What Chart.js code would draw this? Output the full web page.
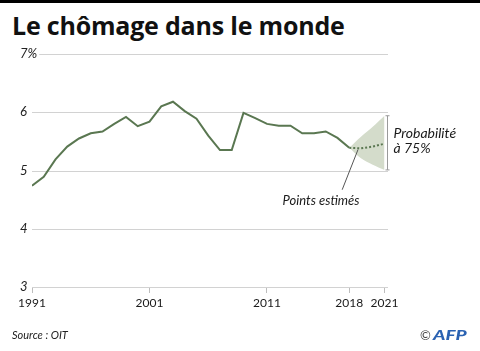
<!DOCTYPE html>
<html>
<head>
<meta charset="utf-8">
<script src="https://cdn.jsdelivr.net/npm/chart.js@4"></script>
<style>
  body { margin: 0; background: #fff; }
  #wrap { position: relative; width: 480px; height: 351px; overflow: hidden; font-family: Lato, sans-serif; color: #1a1a1a; }
  #bar { position: absolute; left: 0; top: 0; width: 480px; height: 3px; background: #000; }
  #title { position: absolute; left: 12px; top: 12px; font-family: "Open Sans", sans-serif; font-size: 25px; line-height: 26px; font-weight: 700; white-space: nowrap; color: #111; letter-spacing: -0.2px; }
  #source { position: absolute; left: 12px; top: 329px; font-size: 11px; line-height: 11px; font-style: italic; color: #222; }
  #logo { position: absolute; left: 420px; top: 328px; font-size: 14px; line-height: 14px; white-space: nowrap; }
  #logo .c { color: #444; font-size: 13px; }
  #logo .afp { display: inline-block; color: #2a62b2; font-weight: 900; font-style: italic; transform: scaleX(1.35); transform-origin: left center; margin-left: 2px; }
  canvas { position: absolute; left: 0; top: 0; }
</style>
</head>
<body>
<div id="wrap">
  <div id="bar"></div>
  <div id="title">Le chômage dans le monde</div>
  <canvas id="chomageChart" width="480" height="351"></canvas>
  <div id="source">Source : OIT</div>
  <div id="logo"><span class="c">©</span><span class="afp">AFP</span></div>
</div>
<script>
// Data
var years = [1991, 1992, 1993, 1994, 1995, 1996, 1997, 1998, 1999, 2000,
             2001, 2002, 2003, 2004, 2005, 2006, 2007, 2008, 2009, 2010,
             2011, 2012, 2013, 2014, 2015, 2016, 2017, 2018];
var rates = [4.74, 4.89, 5.19, 5.41, 5.55, 5.64, 5.67, 5.80, 5.92, 5.76,
             5.84, 6.10, 6.18, 6.02, 5.89, 5.60, 5.35, 5.35, 5.99, 5.90,
             5.80, 5.77, 5.77, 5.64, 5.64, 5.67, 5.56, 5.39];

var estYears = [2018, 2019, 2020, 2021];
var estimates = [5.39, 5.38, 5.41, 5.46];
var upper = [5.39, 5.58, 5.75, 5.94];
var lower = [5.39, 5.21, 5.10, 5.01];

var tickYears = [1991, 2001, 2011, 2018, 2021];
var yTicks = [3, 4, 5, 6, 7];

var green = '#5a7751';

function points(xs, ys) {
    return xs.map(function (x, i) { return { x: x, y: ys[i] }; });
}

function yLabel(v) {
    return v === 7 ? '7%' : String(v);
}

// light gridlines under the data
var lightGrid = {
    id: 'lightGrid',
    beforeDatasetsDraw: function (chart) {
        var ctx = chart.ctx, area = chart.chartArea, y = chart.scales.y;
        ctx.save();
        ctx.strokeStyle = '#d2d2d2';
        ctx.lineWidth = 1;
        yTicks.forEach(function (v) {
            var py = Math.round(y.getPixelForValue(v)) + 0.5;
            ctx.beginPath();
            ctx.moveTo(area.left, py);
            ctx.lineTo(area.right, py);
            ctx.stroke();
        });
        ctx.restore();
    }
};

// y tick labels (left aligned), bracket, notes and leader line
var annotations = {
    id: 'annotations',
    afterDatasetsDraw: function (chart) {
        var ctx = chart.ctx;
        var x = chart.scales.x, y = chart.scales.y;
        ctx.save();

        ctx.font = 'italic 13px Lato';
        ctx.textAlign = 'left';
        ctx.textBaseline = 'middle';
        yTicks.forEach(function (v) {
            var py = y.getPixelForValue(v);
            var txt = yLabel(v);
            var w = ctx.measureText(txt).width;
            ctx.fillStyle = '#fff';
            ctx.fillRect(19, py - 4, w + 3, 8);
            ctx.fillStyle = '#222';
            ctx.fillText(txt, 20, py);
        });

        var last = upper.length - 1;
        var bx = Math.round(x.getPixelForValue(estYears[last])) + 3.5;
        var yTop = y.getPixelForValue(upper[last]);
        var yBot = y.getPixelForValue(lower[last]);
        ctx.strokeStyle = '#9a9a9a';
        ctx.lineWidth = 1;
        ctx.beginPath();
        ctx.moveTo(bx, yTop); ctx.lineTo(bx, yBot);
        ctx.moveTo(bx - 2, yTop); ctx.lineTo(bx + 2, yTop);
        ctx.moveTo(bx - 2, yBot); ctx.lineTo(bx + 2, yBot);
        ctx.stroke();

        // leader line towards the estimated points
        ctx.strokeStyle = '#555';
        ctx.beginPath();
        ctx.moveTo(x.getPixelForValue(2017.4), y.getPixelForValue(4.67));
        ctx.lineTo(x.getPixelForValue(2018.75), y.getPixelForValue(5.36));
        ctx.stroke();

        ctx.fillStyle = '#1a1a1a';
        ctx.font = 'italic 14px Lato';
        ctx.textBaseline = 'alphabetic';
        ctx.textAlign = 'left';
        var mid = (yTop + yBot) / 2;
        ctx.fillText('Probabilité', bx + 6, mid - 5);
        ctx.fillText('à 75%', bx + 6, mid + 10);

        ctx.font = 'italic 13px Lato';
        ctx.textAlign = 'center';
        ctx.fillText('Points estimés', x.getPixelForValue(2015.6), y.getPixelForValue(4.41));
        ctx.restore();
    }
};

var ctx = document.getElementById('chomageChart').getContext('2d');

var chomageChart = new Chart(ctx, {
    type: 'line',
    data: {
        datasets: [
            {
                label: 'Chômage',
                data: points(years, rates),
                borderColor: green,
                borderWidth: 2,
                pointRadius: 0,
                fill: false,
                order: 0
            },
            {
                label: 'Points estimés',
                data: points(estYears, estimates),
                borderColor: green,
                borderWidth: 2,
                borderDash: [2, 2],
                pointRadius: 0,
                fill: false,
                order: 1
            },
            {
                label: 'Haut',
                data: points(estYears, upper),
                borderWidth: 0,
                borderColor: 'rgba(0,0,0,0)',
                pointRadius: 0,
                tension: 0.3,
                fill: false,
                order: 3
            },
            {
                label: 'Bas',
                data: points(estYears, lower),
                borderWidth: 0,
                borderColor: 'rgba(0,0,0,0)',
                backgroundColor: '#d4dccb',
                pointRadius: 0,
                tension: 0.3,
                fill: '-1',
                order: 2
            }
        ]
    },
    options: {
        responsive: false,
        animation: false,
        devicePixelRatio: 1,
        layout: { padding: { left: 20, right: 92, top: 54, bottom: 0 } },
        plugins: {
            legend: { display: false },
            tooltip: { enabled: false }
        },
        scales: {
            x: {
                type: 'linear',
                min: 1991,
                max: 2021.3,
                afterBuildTicks: function (scale) {
                    scale.ticks = tickYears.map(function (v) { return { value: v }; });
                },
                afterFit: function (scale) { scale.height = 64; },
                grid: {
                    drawOnChartArea: false,
                    drawTicks: true,
                    tickLength: 6,
                    tickColor: '#bdbdbd'
                },
                border: { display: false },
                ticks: {
                    autoSkip: false,
                    maxRotation: 0,
                    padding: 3,
                    color: '#1a1a1a',
                    font: { family: 'Lato', size: 12 },
                    callback: function (v) { return String(v); }
                }
            },
            y: {
                min: 3,
                max: 7,
                afterBuildTicks: function (scale) {
                    scale.ticks = yTicks.map(function (v) { return { value: v }; });
                },
                afterFit: function (scale) { scale.width = 12; },
                grid: { display: false },
                border: { display: false },
                ticks: { display: false }
            }
        }
    },
    plugins: [lightGrid, annotations]
});
</script>
</body>
</html>
